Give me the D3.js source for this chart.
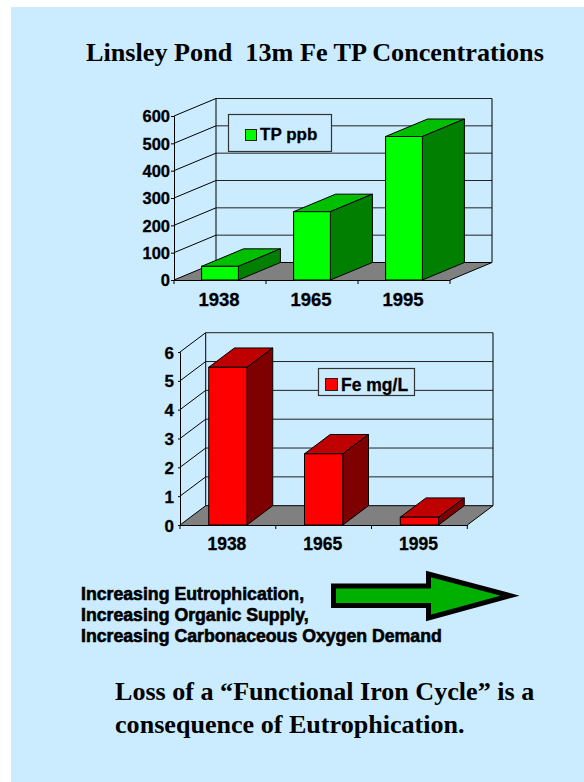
<!DOCTYPE html>
<html><head><meta charset="utf-8">
<script src="https://cdn.jsdelivr.net/npm/d3@7"></script>
<style>html,body{margin:0;padding:0;background:#fff;overflow:hidden}svg{display:block}</style>
</head><body><svg id="c" width="584" height="782"></svg>
<script>
const categories = ["1938","1965","1995"];
const tpValues = [50,250,525];
const feValues = [5.47,2.47,0.27];
const tpTicks = [0,100,200,300,400,500,600];
const feTicks = [0,1,2,3,4,5,6];
const titleText = "Linsley Pond  13m Fe TP Concentrations";
const trendLines = ["Increasing Eutrophication,","Increasing Organic Supply,","Increasing Carbonaceous Oxygen Demand"];
const conclusionLines = ["Loss of a “Functional Iron Cycle” is a","consequence of Eutrophication."];

const svg = d3.select("#c");
svg.append("rect").attr("x",11).attr("y",7).attr("width",573).attr("height",775).attr("fill","#cbebff");

function chart(o){
  const g = svg.append("g");
  const x = d3.scaleBand().domain(categories).range([o.x0,o.x1]).paddingInner(0.6).paddingOuter(0.3);
  const y = d3.scaleLinear().domain([0,o.ticks[o.ticks.length-1]]).range([o.y0,o.yTop]);
  const dx=o.dx, dy=o.dy, line="#000";
  g.append("path").attr("d",`M${o.x0},${o.y0}L${o.x0+dx},${o.y0-dy}L${o.x1+dx},${o.y0-dy}L${o.x1},${o.y0}Z`).attr("fill","#808080");
  g.selectAll(".grid").data(o.ticks.slice(1)).join("line")
    .attr("x1",o.x0+dx).attr("x2",o.x1+dx).attr("y1",d=>y(d)-dy).attr("y2",d=>y(d)-dy)
    .attr("stroke","#222").attr("stroke-width",1);
  g.selectAll(".side").data(o.ticks).join("line")
    .attr("x1",o.x0).attr("x2",o.x0+dx).attr("y1",d=>y(d)).attr("y2",d=>y(d)-dy)
    .attr("stroke",line).attr("stroke-width",1);
  g.append("line").attr("x1",o.x0+dx).attr("x2",o.x0+dx).attr("y1",y(o.ticks[o.ticks.length-1])-dy).attr("y2",o.y0-dy).attr("stroke",line);
  g.append("line").attr("x1",o.x1+dx).attr("x2",o.x1+dx).attr("y1",y(o.ticks[o.ticks.length-1])-dy).attr("y2",o.y0-dy).attr("stroke",line);
  g.append("line").attr("x1",o.x1).attr("x2",o.x1+dx).attr("y1",o.y0).attr("y2",o.y0-dy).attr("stroke",line);
  g.append("line").attr("x1",o.x0+dx).attr("x2",o.x1+dx).attr("y1",o.y0-dy).attr("y2",o.y0-dy).attr("stroke",line);
  const b = g.selectAll(".bar").data(o.values.map((v,i)=>({v,c:categories[i]}))).join("g");
  const w = x.bandwidth();
  b.append("path").attr("fill",o.top).attr("stroke","#000").attr("stroke-width",1).attr("stroke-linejoin","round")
    .attr("d",d=>{const X=x(d.c),Y=y(d.v);return `M${X},${Y}L${X+dx},${Y-dy}L${X+w+dx},${Y-dy}L${X+w},${Y}Z`});
  b.append("path").attr("fill",o.side).attr("stroke","#000").attr("stroke-width",1).attr("stroke-linejoin","round")
    .attr("d",d=>{const X=x(d.c)+w,Y=y(d.v);return `M${X},${Y}L${X+dx},${Y-dy}L${X+dx},${o.y0-dy}L${X},${o.y0}Z`});
  b.append("rect").attr("fill",o.front).attr("stroke","#000").attr("stroke-width",1)
    .attr("x",d=>x(d.c)).attr("width",w).attr("y",d=>y(d.v)).attr("height",d=>o.y0-y(d.v));
  const ya = d3.axisLeft(y).tickValues(o.ticks).tickSize(o.tick).tickPadding(o.yPad).tickFormat(d3.format("d"));
  const yg = g.append("g").attr("transform",`translate(${o.x0},0)`).call(ya);
  yg.selectAll("text").attr("font-size",o.yFont).attr("dy","0.36em");
  const xa = d3.axisBottom(x).tickSize(0).tickPadding(o.xPad);
  const xg = g.append("g").attr("transform",`translate(0,${o.y0})`).call(xa);
  xg.selectAll("text").attr("font-size",o.xFont).attr("dx",o.xShift||0);
  g.selectAll(".tk").data(d3.range(4)).join("line")
    .attr("x1",i=>o.x0+i*x.step()).attr("x2",i=>o.x0+i*x.step()).attr("y1",o.y0).attr("y2",o.y0+4).attr("stroke","#000");
  [yg,xg].forEach(s=>{s.attr("font-family","Liberation Sans").attr("font-weight","bold");
    s.selectAll("text").attr("fill","#000").attr("stroke","#000").attr("stroke-width",.3);s.select(".domain").attr("stroke","#000");s.selectAll(".tick line").attr("stroke","#000")});
  const L=o.legend;
  g.append("rect").attr("x",L.x+.5).attr("y",L.y+.5).attr("width",L.w).attr("height",L.h).attr("fill","#cbebff").attr("stroke","#333").attr("stroke-width",1.2);
  g.append("rect").attr("x",L.sx+.5).attr("y",L.sy+.5).attr("width",L.ss).attr("height",L.ss).attr("fill",o.front).attr("stroke","#222");
  g.append("text").attr("x",L.tx).attr("y",L.ty).attr("font-family","Liberation Sans").attr("font-weight","bold").attr("font-size",L.fs).attr("stroke","#000").attr("stroke-width",.3).text(o.label);
}
chart({values:tpValues,ticks:tpTicks,x0:174,x1:450,y0:280,yTop:116,dx:42,dy:17.5,front:"#00ff00",top:"#00bf00",side:"#007f00",
  yFont:16.5,xFont:18.5,xPad:13,tick:3,yPad:1,xShift:-1,label:"TP ppb",
  legend:{x:228,y:114,w:103,h:37,sx:245,sy:129,ss:11,tx:260,ty:140,fs:17}});
chart({values:feValues,ticks:feTicks,x0:180,x1:467.3,y0:525,yTop:352,dx:25.7,dy:19.3,front:"#ff0000",top:"#bf0000",side:"#7f0000",
  yFont:17,xFont:17.5,xPad:13,tick:2,yPad:4,xShift:-1,label:"Fe mg/L",
  legend:{x:318,y:368,w:96,h:27,sx:325,sy:378,ss:12,tx:341,ty:391,fs:17.5}});

svg.append("text").attr("x",86).attr("y",61).attr("xml:space","preserve").style("white-space","pre")
  .attr("font-family","Liberation Serif").attr("font-weight","bold").attr("font-size",26.2).text(titleText);
svg.selectAll(".trend").data(trendLines).join("text").attr("x",81).attr("y",(d,i)=>600+i*21)
  .attr("font-family","Liberation Sans").attr("font-weight","bold").attr("font-size",17.7)
  .attr("stroke","#000").attr("stroke-width",.6).text(d=>d);
svg.selectAll(".concl").data(conclusionLines).join("text").attr("x",115).attr("y",(d,i)=>700+i*33)
  .attr("font-family","Liberation Serif").attr("font-weight","bold").attr("font-size",26.1).text(d=>d);
const arrowLine = d3.line();
const arrowPts = [[333.5,586],[428.5,586],[428.5,574],[510,595.7],[428.5,618],[428.5,605.5],[333.5,605.5]];
svg.append("path").attr("d",arrowLine(arrowPts)+"Z").attr("fill","#00b000").attr("stroke","#000").attr("stroke-width",5).attr("stroke-linejoin","miter").attr("stroke-miterlimit",10);
</script></body></html>
